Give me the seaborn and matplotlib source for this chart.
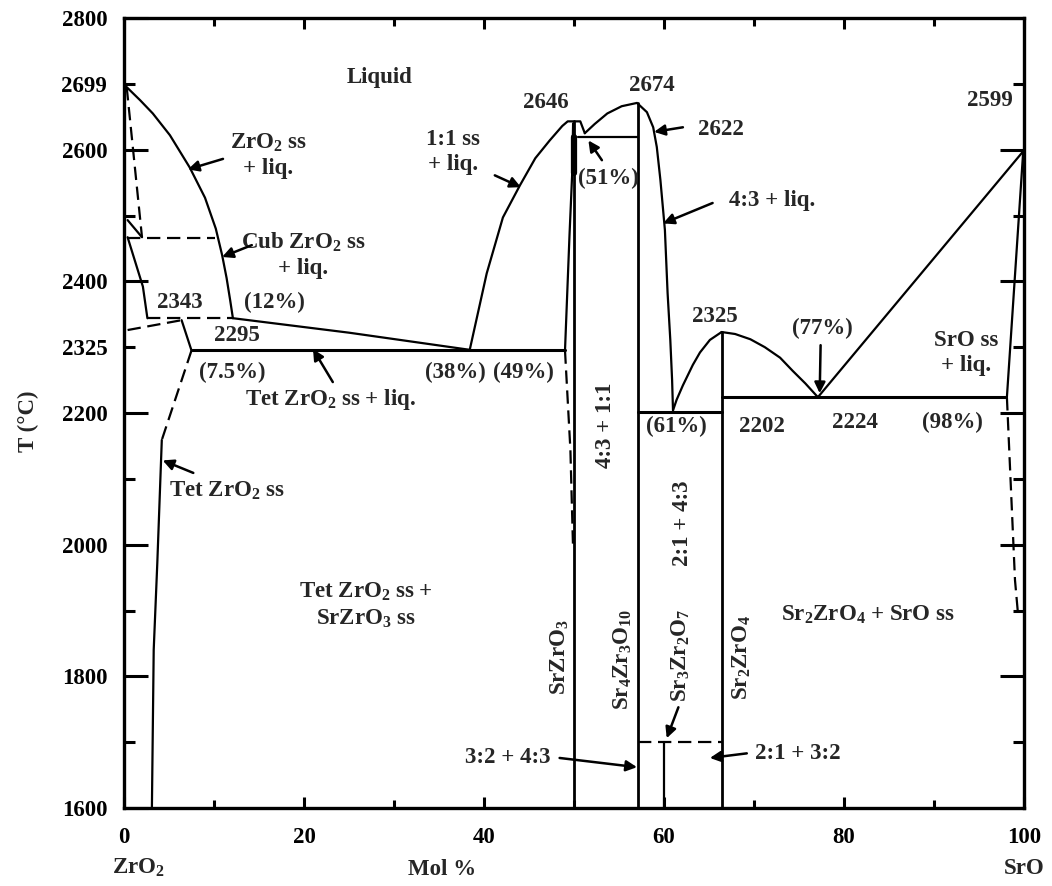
import numpy as np
import pandas as pd
import matplotlib
matplotlib.use("Agg")
import matplotlib.pyplot as plt
import seaborn as sns

# ---------------- data (mol % SrO, temperature in degC) ----------------
zro2_liq_x = [0, 1.8, 3.2, 5.1, 7.3, 9.0, 10.2, 10.9, 11.4, 11.8, 12.1]
zro2_liq_y = [2699, 2675, 2655, 2622, 2573, 2527, 2480, 2440, 2405, 2371, 2344]

cub_sol_x = [0.3, 2.0]           # dashed cubic solidus
cub_sol_y = [2695, 2467]
cub_tet_x = [0.4, 2.1, 2.6]      # cubic/tet boundary
cub_tet_y = [2467, 2392, 2344]
cub_short_x = [0.4, 2.0]
cub_short_y = [2493, 2467]
cub_trans_x = [0.3, 10.1]        # dashed cubic transition
cub_trans_y = [2466, 2466]

per_2343_x = [2.6, 12.1]
per_2343_y = [2344, 2344]
tet_up_x = [0.4, 6.4]
tet_up_y = [2326, 2341]
tet_bd_x = [6.4, 7.5]
tet_bd_y = [2341, 2295]
tet_dash_x = [7.5, 4.2]
tet_dash_y = [2295, 2159]
tet_sol_x = [4.2, 3.7, 3.3, 3.1]
tet_sol_y = [2159, 1972, 1840, 1600]

liq_mid_x = [12.1, 25.0, 38.4]
liq_mid_y = [2344, 2322, 2296]
eut_2295_x = [7.5, 49.0]
eut_2295_y = [2295, 2295]

liq_11_x = [38.4, 40.3, 42.1, 44.0, 45.7, 47.3, 48.7, 49.3, 50.7, 51.2]
liq_11_y = [2295, 2412, 2497, 2546, 2587, 2614, 2636, 2643, 2643, 2625]
liq_43_x = [51.2, 52.3, 53.7, 55.3, 57.0, 58.1, 58.8, 59.2, 59.6, 60.1, 60.4, 60.7, 60.9, 61.0]
liq_43_y = [2625, 2639, 2655, 2666, 2671, 2657, 2634, 2604, 2554, 2478, 2382, 2311, 2250, 2204]
per_2622_x = [50.4, 57.1]
per_2622_y = [2619, 2619]

sol_11_x = [49.9, 49.8, 49.5, 49.0]
sol_11_y = [2640, 2564, 2470, 2295]
sol_11_dash_x = [49.0, 49.6, 49.9]
sol_11_dash_y = [2295, 2144, 1992]

c11_x = [50.0, 50.0]
c11_y = [2643, 1600]
c11_thick_x = [50.0, 50.0]
c11_thick_y = [2619, 2564]
c43_x = [57.1, 57.1]
c43_y = [2671, 1600]
eut_2202_x = [57.1, 66.4]
eut_2202_y = [2201, 2201]

liq_21a_x = [61.0, 61.4, 62.1, 63.2, 64.0, 65.1, 66.4]
liq_21a_y = [2204, 2220, 2242, 2273, 2292, 2311, 2323]
c21_x = [66.4, 66.4]
c21_y = [2323, 1600]
liq_21b_x = [66.4, 67.9, 69.6, 71.2, 72.9, 74.3, 75.7, 77.1]
liq_21b_y = [2323, 2320, 2312, 2300, 2284, 2264, 2245, 2224]
liq_sro_x = [77.1, 100]
liq_sro_y = [2224, 2599]
eut_2224_x = [66.4, 97.9]
eut_2224_y = [2224, 2224]
sol_sro_x = [99.9, 98.1]
sol_sro_y = [2595, 2224]
sol_sro_dash_x = [98.1, 99.0, 99.3]
sol_sro_dash_y = [2224, 1946, 1900]

c32_x = [60.0, 60.0]
c32_y = [1700, 1600]
dec_1700_x = [57.1, 66.4]
dec_1700_y = [1700, 1700]

# tick definitions
x_major = [0, 20, 40, 60, 80, 100]
x_minor = [10, 30, 50, 70, 90]
y_major = [1600, 1800, 2000, 2200, 2400, 2600, 2800]
y_minor = [1700, 1900, 2100, 2300, 2500, 2700]
y_minor_labels = ["", "", "", "2325", "", "2699"]

# ---------------- style ----------------
sns.set_theme(style="ticks")
plt.rcParams["font.family"] = ["Liberation Serif", "DejaVu Serif"]
plt.rcParams["font.weight"] = "bold"
plt.rcParams["mathtext.fontset"] = "custom"
plt.rcParams["mathtext.rm"] = "Liberation Serif:bold"
plt.rcParams["mathtext.it"] = "Liberation Serif:bold"
plt.rcParams["mathtext.bf"] = "Liberation Serif:bold"
plt.rcParams["mathtext.default"] = "rm"

FS = 16.5
fig = plt.figure(figsize=(10.52, 8.86), dpi=100)
ax = fig.add_axes([124 / 1052, 1 - 808 / 886, 900 / 1052, 790 / 886])


def line(x, y, dashed=False, lw=1.6):
    df = pd.DataFrame({"x": x, "y": y})
    sns.lineplot(data=df, x="x", y="y", sort=False, estimator=None, ax=ax,
                 color="black", lw=lw, linestyle=(0, (6, 3)) if dashed else "-")


solid = [
    (zro2_liq_x, zro2_liq_y), (cub_tet_x, cub_tet_y), (cub_short_x, cub_short_y),
    (tet_bd_x, tet_bd_y), (tet_sol_x, tet_sol_y), (liq_mid_x, liq_mid_y),
    (liq_11_x, liq_11_y), (liq_43_x, liq_43_y), (per_2622_x, per_2622_y),
    (sol_11_x, sol_11_y), (liq_21a_x, liq_21a_y), (liq_21b_x, liq_21b_y),
    (liq_sro_x, liq_sro_y), (sol_sro_x, sol_sro_y), (c32_x, c32_y),
]
for x, y in solid:
    line(x, y)
for x, y in [(eut_2295_x, eut_2295_y), (eut_2202_x, eut_2202_y), (eut_2224_x, eut_2224_y)]:
    line(x, y, lw=2.2)
for x, y in [(c11_x, c11_y), (c43_x, c43_y), (c21_x, c21_y)]:
    line(x, y, lw=2.0)
line(c11_thick_x, c11_thick_y, lw=4.5)
dashed = [
    (cub_sol_x, cub_sol_y), (cub_trans_x, cub_trans_y), (per_2343_x, per_2343_y),
    (tet_up_x, tet_up_y), (tet_dash_x, tet_dash_y), (sol_11_dash_x, sol_11_dash_y),
    (sol_sro_dash_x, sol_sro_dash_y), (dec_1700_x, dec_1700_y),
]
for x, y in dashed:
    line(x, y, dashed=True)

ax.set_xlim(0, 100)
ax.set_ylim(1600, 2800)
ax.set_xlabel("")
ax.set_ylabel("")

ax.set_xticks(x_major)
ax.set_xticklabels([str(v) for v in x_major], fontsize=FS, fontweight="bold")
ax.set_xticks(x_minor, minor=True)
ax.set_yticks(y_major)
ax.set_yticklabels([str(v) for v in y_major], fontsize=FS, fontweight="bold")
ax.set_yticks(y_minor, minor=True)
ax.set_yticklabels(y_minor_labels, minor=True, fontsize=FS, fontweight="bold")
ax.tick_params(which="both", direction="in", top=True, right=True, width=2.2,
               color="black", labelcolor="black")
ax.tick_params(axis="y", which="major", length=17, pad=12)
ax.tick_params(axis="y", which="minor", length=8, pad=12)
ax.tick_params(axis="x", which="major", length=8, pad=14)
ax.tick_params(axis="x", which="minor", length=6)
for s in ax.spines.values():
    s.set_linewidth(2.4)
    s.set_color("black")
ax.set_facecolor("white")

# axis labels
ax.text(-0.106, 0.49, "T (°C)", transform=ax.transAxes, rotation=90,
        ha="center", va="center", fontsize=FS, fontweight="bold")
ax.text(1.6, -0.076, "ZrO$_2$", transform=ax.get_xaxis_transform(), ha="center",
        va="center", fontsize=FS, fontweight="bold")
ax.text(35.3, -0.078, "Mol %", transform=ax.get_xaxis_transform(), ha="center",
        va="center", fontsize=FS, fontweight="bold")
ax.text(100, -0.076, "SrO", transform=ax.get_xaxis_transform(), ha="center",
        va="center", fontsize=FS, fontweight="bold")

# text labels
labels = [
    ("Liquid", 28.4, 2709, 0),
    ("2646", 46.9, 2671, 0),
    ("2674", 58.7, 2698, 0),
    ("2622", 66.3, 2630, 0),
    ("2599", 96.2, 2675, 0),
    ("ZrO$_2$ ss\n+ liq.", 16.0, 2592, 0),
    ("Cub ZrO$_2$ ss\n+ liq.", 19.9, 2440, 0),
    ("2343", 6.2, 2368, 0),
    ("(12%)", 16.7, 2368, 0),
    ("2295", 12.6, 2317, 0),
    ("(7.5%)", 12.0, 2262, 0),
    ("Tet ZrO$_2$ ss + liq.", 22.9, 2220, 0),
    ("(38%)", 36.8, 2262, 0),
    ("(49%)", 44.4, 2262, 0),
    ("1:1 ss\n+ liq.", 36.6, 2596, 0),
    ("(51%)", 53.8, 2557, 0),
    ("4:3 + liq.", 72.0, 2523, 0),
    ("2325", 65.6, 2347, 0),
    ("(77%)", 77.6, 2329, 0),
    ("SrO ss\n+ liq.", 93.6, 2291, 0),
    ("(61%)", 61.4, 2179, 0),
    ("2202", 70.9, 2180, 0),
    ("2224", 81.2, 2186, 0),
    ("(98%)", 92.1, 2186, 0),
    ("4:3 + 1:1", 53.5, 2182, 90),
    ("2:1 + 4:3", 62.1, 2032, 90),
    ("Tet ZrO$_2$ ss", 11.4, 2082, 0),
    ("Tet ZrO$_2$ ss +\nSrZrO$_3$ ss", 26.9, 1908, 0),
    ("Sr$_2$ZrO$_4$ + SrO ss", 82.7, 1893, 0),
    ("SrZrO$_3$", 48.4, 1829, 90),
    ("Sr$_4$Zr$_3$O$_{10}$", 55.4, 1825, 90),
    ("Sr$_3$Zr$_2$O$_7$", 61.9, 1832, 90),
    ("Sr$_2$ZrO$_4$", 68.6, 1828, 90),
    ("3:2 + 4:3", 42.6, 1676, 0),
    ("2:1 + 3:2", 74.9, 1683, 0),
]
for txt, x, y, rot in labels:
    ax.text(x, y, txt, ha="center", va="center", rotation=rot, fontsize=FS,
            fontweight="bold", linespacing=1.25, multialignment="center")

# arrows: (tail x, tail y, head x, head y)
arrows = [
    (11.0, 2586, 7.1, 2570),
    (14.2, 2455, 10.9, 2437),
    (23.2, 2247, 21.0, 2297),
    (7.7, 2109, 4.3, 2128),
    (41.2, 2561, 44.1, 2543),
    (53.1, 2584, 51.6, 2614),
    (62.1, 2634, 58.9, 2627),
    (65.4, 2519, 59.9, 2488),
    (77.4, 2303, 77.3, 2230),
    (61.6, 1753, 60.3, 1706),
    (48.4, 1676, 57.0, 1662),
    (69.2, 1683, 65.1, 1676),
]
for tx, ty, hx, hy in arrows:
    ax.annotate("", xy=(hx, hy), xytext=(tx, ty),
                arrowprops=dict(arrowstyle="-|>", color="black", lw=1.8,
                                mutation_scale=16, shrinkA=0, shrinkB=0))

fig.savefig("out.png", dpi=100, facecolor="white")
